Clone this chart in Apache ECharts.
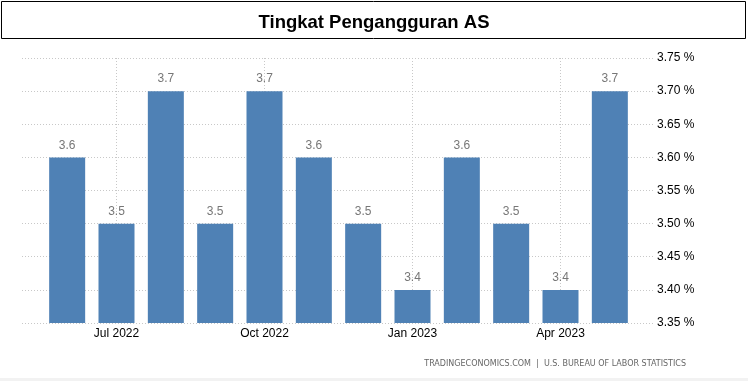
<!DOCTYPE html>
<html>
<head>
<meta charset="utf-8">
<script src="https://cdn.jsdelivr.net/npm/echarts@6/dist/echarts.min.js"></script>
<style>
html,body{margin:0;padding:0;background:#fff;}
#chart{width:748px;height:381px;}
</style>
</head>
<body>
<div id="chart"></div>
<script>
const titleText = 'Tingkat Pengangguran AS';
const sourceText = 'TRADINGECONOMICS.COM  |  U.S. BUREAU OF LABOR STATISTICS';
const categories = ['Jun 2022','Jul 2022','Aug 2022','Sep 2022','Oct 2022','Nov 2022','Dec 2022','Jan 2023','Feb 2023','Mar 2023','Apr 2023','May 2023'];
const values = [3.6, 3.5, 3.7, 3.5, 3.7, 3.6, 3.5, 3.4, 3.6, 3.5, 3.4, 3.7];
const yMin = 3.35, yMax = 3.75, yStep = 0.05;
const labelledIdx = [1, 4, 7, 10];

const chart = echarts.init(document.getElementById('chart'), null, {renderer:'canvas'});
const font = '"Liberation Sans", Arial, sans-serif';
const showIdx = (i) => labelledIdx.indexOf(i) >= 0;

chart.setOption({
  animation: false,
  backgroundColor: '#ffffff',
  title: {
    text: titleText,
    left: 'center',
    top: 8,
    textStyle: {fontFamily: font, fontSize: 18.5, fontWeight: 'bold', color: '#000'}
  },
  graphic: [
    {type:'rect', shape:{x:1.5, y:1.5, width:744, height:37}, style:{fill:'none', stroke:'#000', lineWidth:1}, z:-1},
    {type:'text', x:686, y:364, style:{text: sourceText, align:'right', verticalAlign:'middle', fill:'#666', font:'8px "DejaVu Sans", Verdana, sans-serif'}},
    {type:'rect', shape:{x:0, y:378, width:748, height:3}, style:{fill:'#f2f2f2'}}
  ],
  grid: [
    {left: 22, right: 95, top: 58, bottom: 58},
    {left: 42.5, right: 113.5, top: 58, bottom: 58}
  ],
  xAxis: [
    {type:'category', gridIndex:0, data: categories, show:false},
    {type:'category', gridIndex:1, data: categories,
     axisLine:{show:false}, axisTick:{show:false, alignWithLabel:true, interval: showIdx},
     axisLabel:{interval: showIdx, color:'#000', fontFamily: font, fontSize:12, margin:5},
     splitLine:{show:true, alignWithLabel:true, interval: showIdx, lineStyle:{color:'#c8c8c8', type:[1,2]}}}
  ],
  yAxis: [
    {type:'value', gridIndex:0, position:'right', min:yMin, max:yMax, interval:yStep,
     axisLine:{show:false}, axisTick:{show:false},
     axisLabel:{formatter:(v)=>v.toFixed(2)+' %', color:'#000', fontFamily: font, fontSize:12, margin:4},
     splitLine:{show:true, lineStyle:{color:'#c8c8c8', type:[1,2]}}},
    {type:'value', gridIndex:1, min:yMin, max:yMax, interval:yStep, show:false, splitLine:{show:false}}
  ],
  series: [{
    type:'bar', xAxisIndex:1, yAxisIndex:1, data: values, barWidth:36,
    itemStyle:{color:'#4f81b5'},
    label:{show:true, position:'top', distance:6, color:'#777', fontFamily: font, fontSize:12,
      formatter:(p)=>p.value.toFixed(1)}
  }]
});
</script>
</body>
</html>
